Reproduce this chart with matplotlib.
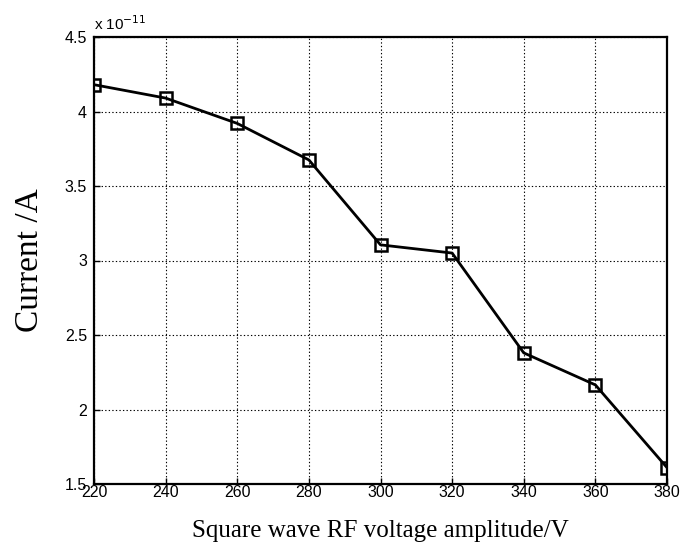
import matplotlib
matplotlib.use("Agg")
import matplotlib.pyplot as plt

# Measured current vs. square-wave RF voltage amplitude
voltage = [220, 240, 260, 280, 300, 320, 340, 360, 380]
current = [4.18, 4.09, 3.92, 3.675, 3.105, 3.05, 2.38, 2.165, 1.61]  # in units of 1e-11 A
exponent = -11

x_ticks = [220, 240, 260, 280, 300, 320, 340, 360, 380]
y_ticks = [1.5, 2, 2.5, 3, 3.5, 4, 4.5]
y_tick_labels = ["1.5", "2", "2.5", "3", "3.5", "4", "4.5"]

fig = plt.figure(figsize=(6.81, 5.57), dpi=100)
ax = fig.add_axes([94 / 681, 1 - 484 / 557, (667 - 94) / 681, (484 - 37) / 557])

ax.plot(voltage, current, color="black", linewidth=2.0, marker="s",
        markersize=9, markerfacecolor="none", markeredgecolor="black",
        markeredgewidth=1.8, zorder=3)

ax.set_xlim(220, 380)
ax.set_ylim(1.5, 4.5)
ax.set_xticks(x_ticks)
ax.set_xticklabels([str(v) for v in x_ticks])
ax.set_yticks(y_ticks)
ax.set_yticklabels(y_tick_labels)

tick_font = "Liberation Sans"
for lab in ax.get_xticklabels() + ax.get_yticklabels():
    lab.set_fontfamily(tick_font)
    lab.set_fontsize(11.5)

ax.tick_params(direction="in", length=4, width=1.0, top=False, right=False,
               colors="black")
ax.tick_params(axis="x", pad=1)
ax.tick_params(axis="y", pad=5)
ax.grid(True, color="black", linestyle=(0, (1.2, 2.0)), linewidth=0.8)
for s in ax.spines.values():
    s.set_linewidth(1.6)
    s.set_color("black")

ax.text(0.0, 1.008, "x 10$^{%d}$" % exponent, transform=ax.transAxes,
        ha="left", va="bottom", fontsize=11, fontfamily=tick_font)

ax.set_xlabel("Square wave RF voltage amplitude/V", fontfamily="Liberation Serif",
              fontsize=18, labelpad=14)
ax.set_ylabel("Current /A", fontfamily="Liberation Serif", fontsize=24, labelpad=14)

fig.savefig("out.png", dpi=100)
